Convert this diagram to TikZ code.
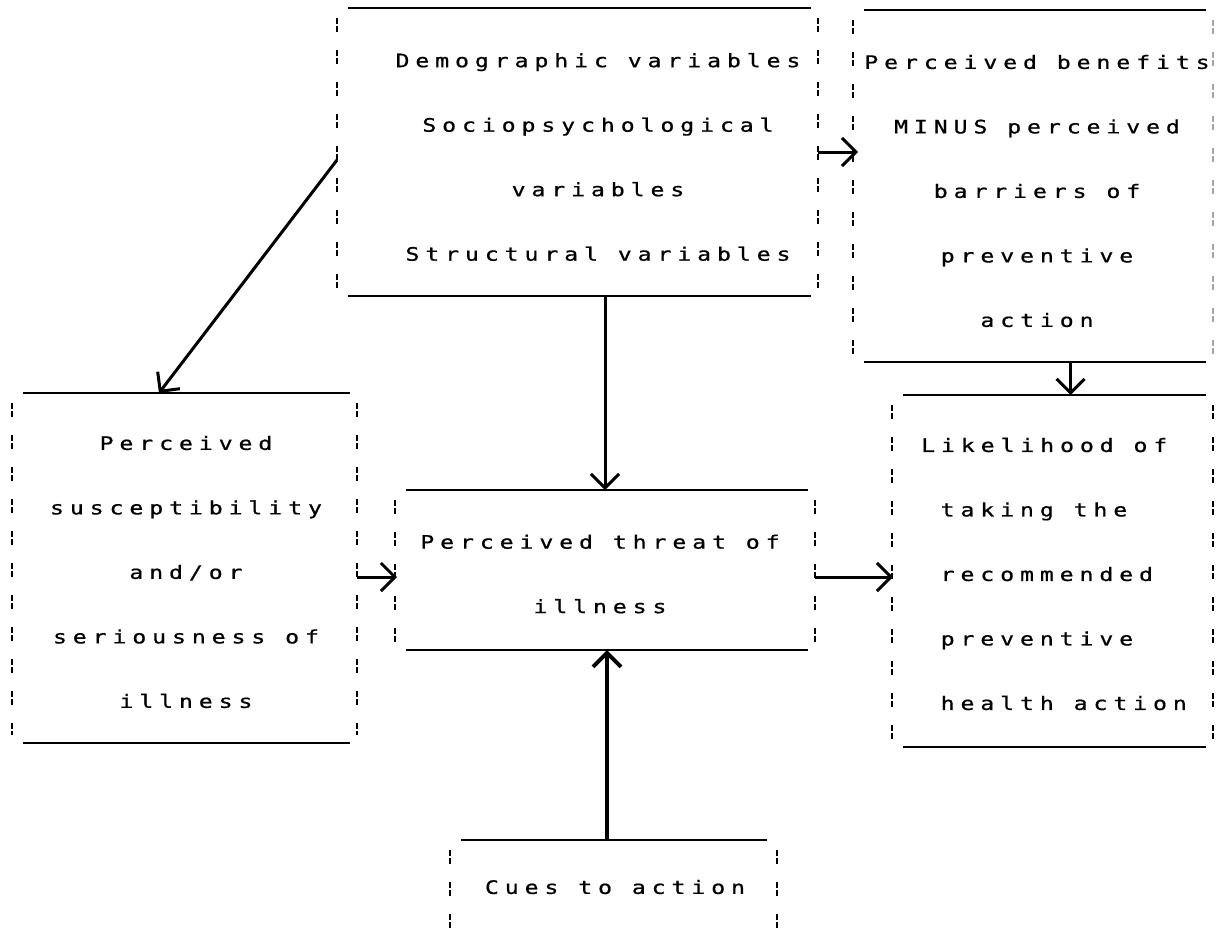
\documentclass[tikz,border=0pt]{standalone}
\usepackage{fontspec}
\usetikzlibrary{arrows.meta,calc}
\newfontfamily\dotfont[FakeStretch=1.25,LetterSpace=32,FakeBold=0.8]{DejaVu Sans Mono}
\newcommand\hbframe[2][black]{%
 \draw[hline] ($(#2.north west)+(11,0)$) -- ($(#2.north east)+(-7,0)$);
 \draw[hline] ($(#2.south west)+(11,0)$) -- ($(#2.south east)+(-7,0)$);
 \draw[vdash] ($(#2.north west)+(0,10)$) -- ($(#2.south west)+(0,-8)$);
 \draw[vdash,#1] ($(#2.north east)+(0,10)$) -- ($(#2.south east)+(0,-8)$);}
\begin{document}
\begin{tikzpicture}[x=1pt,y=-1pt,
  box/.style={rectangle, inner sep=0pt, outer sep=0pt},
  txt/.style={font=\dotfont\fontsize{18.5}{64.5}\selectfont, align=center, inner sep=0pt},
  hline/.style={line width=1.4pt},
  vdash/.style={line width=2pt, dash pattern=on 6pt off 2pt on 6pt off 18pt},
  arr/.style={line width=3pt, -{Straight Barb[length=14pt,width=28pt]}},
]
\useasboundingbox[fill=white] (0,0) rectangle (1217,932);
% boxes
\node[box, minimum width=481pt, minimum height=288pt] (A) at (577.5,152) {};
\node[box, minimum width=360pt, minimum height=352pt] (B) at (1033,186) {};
\node[box, minimum width=345pt, minimum height=350pt] (S) at (184.5,568) {};
\node[box, minimum width=420pt, minimum height=160pt] (C) at (605,570) {};
\node[box, minimum width=321pt, minimum height=352pt] (D) at (1052.5,571) {};
\node[box, minimum width=327pt, minimum height=92pt] (E) at (613.5,886) {};
\hbframe{A}
\hbframe[black!35]{B}
\hbframe{S}
\hbframe{C}
\hbframe{D}
\draw[hline] ($(E.north west)+(11,0)$) -- ($(E.north east)+(-10,0)$);
\draw[vdash] ($(E.north west)+(0,10)$) -- (E.south west);
\draw[vdash] ($(E.north east)+(0,10)$) -- (E.south east);
% texts
\node[txt] (At) at (598,157) {Demographic variables\\Sociopsychological\\variables\\Structural variables};
\node[txt] (Bt) at (1037,191) {Perceived benefits\\MINUS perceived\\barriers of\\preventive\\action};
\node[txt] (St) at (186,572) {Perceived\\susceptibility\\and/or\\seriousness of\\illness};
\node[txt] (Ct) at (600,574) {Perceived threat of\\illness};
\node[txt, align=left, anchor=west] (Dt) at (921,574) {Likelihood of\\\hspace*{19.5pt}taking the\\\hspace*{19.5pt}recommended\\\hspace*{19.5pt}preventive\\\hspace*{19.5pt}health action};
\node[txt] (Et) at (615,887) {Cues to action};
% connectors
\draw[arr] (A.east) -- ([xshift=5pt]A.east -| B.west);
\draw[arr] ([yshift=-8pt]A.west) -- ([xshift=-25.5pt]S.north);
\draw[arr] (C.north |- A.south) -- (C.north);
\draw[arr] ([yshift=-7pt]C.west -| S.east) -- ([yshift=-7pt,xshift=2pt]C.west);
\draw[arr] ([yshift=-7pt]C.east) -- ([yshift=-7pt,xshift=1pt]C.east -| D.west);
\draw[arr] ([xshift=18pt]D.north |- B.south) -- ([xshift=18pt]D.north);
\draw[arr, line width=4pt] ([xshift=2pt]C.south |- E.north) -- ([xshift=2pt]C.south);
\end{tikzpicture}
\end{document}
